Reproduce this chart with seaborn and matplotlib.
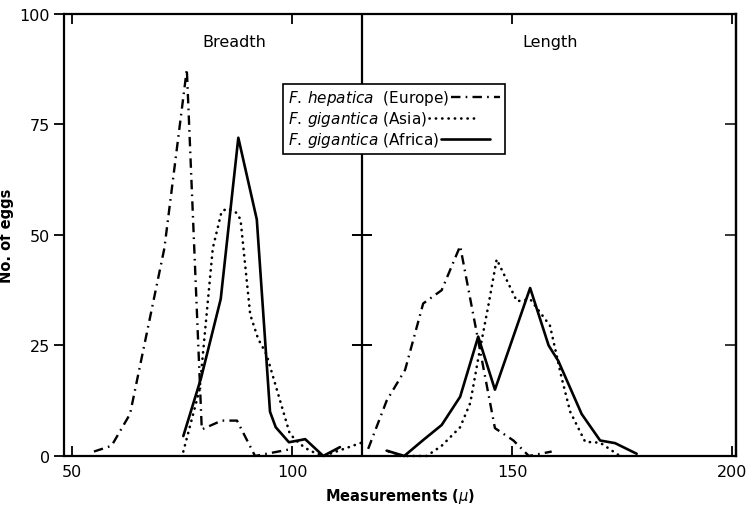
import matplotlib
matplotlib.use("Agg")
import matplotlib.pyplot as plt
import seaborn as sns
import numpy as np

# ---------------- data ----------------
# Breadth panel
europe_breadth_x = [55, 59, 63.2, 71, 76.1, 79.5, 84, 87.5, 91.6, 99.5]
europe_breadth_y = [1.0, 2.3, 9.5, 47, 87.5, 6.0, 8.0, 8.0, 0.0, 1.5]

asia_breadth_x = [75.3, 79, 82, 84, 85.3, 87.4, 88.3, 90.5, 92.3, 94.2, 99.5, 101.8, 104, 107.2, 115.8]
asia_breadth_y = [1.0, 15, 47, 55.3, 56, 55, 53.5, 32, 26.5, 23, 5.0, 2.7, 1.2, 0.0, 3.0]

africa_breadth_x = [75.3, 79.3, 83.8, 87.8, 92.0, 95.0, 96.3, 99.3, 103, 107.1, 110.9]
africa_breadth_y = [4.5, 17.5, 35.5, 72, 53.5, 10, 6.5, 3.1, 3.8, 0.0, 2.0]

# Length panel
europe_length_x = [117.3, 121.5, 125.7, 129.8, 134, 138.2, 146.1, 150.3, 153.8, 159]
europe_length_y = [1.6, 12.5, 19.5, 34.5, 37.5, 47.5, 6.3, 3.5, 0.0, 1.0]

asia_length_x = [122, 125.4, 130.6, 134, 138.2, 140.5, 142.3, 144.6, 146.5, 151.1, 154.1, 158.6, 161.3, 163.2, 166.6, 170, 174.5]
asia_length_y = [1.0, 0.0, 0.0, 2.3, 6.5, 12, 22, 34, 44.5, 35, 35.5, 29.5, 17.5, 10, 3.2, 3.0, 0.0]

africa_length_x = [121.5, 125.5, 129.8, 134, 138.2, 142.3, 146.1, 154.1, 158.3, 160.5, 165.8, 170, 173.4, 178.3]
africa_length_y = [1.2, 0.0, 3.6, 7.0, 13.4, 27, 15, 38, 25, 21.5, 9.5, 3.5, 2.9, 0.5]

series_labels = [r"$\mathit{F.\,hepatica}$  (Europe)",
                 r"$\mathit{F.\,gigantica}$ (Asia)",
                 r"$\mathit{F.\,gigantica}$ (Africa)"]
panel_titles = ["Breadth", "Length"]
x_ticks = [50, 100, 150, 200]
y_ticks = [0, 25, 50, 75, 100]
divider_x = 116

# ---------------- style ----------------
sns.set_style("ticks")
plt.rcParams["font.family"] = ["DejaVu Sans"]
plt.rcParams["mathtext.fontset"] = "dejavusans"
plt.rcParams["text.color"] = "black"
plt.rcParams["axes.labelcolor"] = "black"

fig = plt.figure(figsize=(7.55, 5.1), dpi=100)
ax = fig.add_axes([0.0848, 0.104, 0.8902, 0.8666])

dashdot = (0, (4.0, 2.2, 0.7, 2.2))
dotted = (0, (0.1, 2.3))
styles = [dict(ls=dashdot, lw=1.7, dash_capstyle="butt"),
          dict(ls=dotted, lw=1.9, dash_capstyle="round"),
          dict(ls="-", lw=1.9)]

breadth = [(europe_breadth_x, europe_breadth_y),
           (asia_breadth_x, asia_breadth_y),
           (africa_breadth_x, africa_breadth_y)]
length = [(europe_length_x, europe_length_y),
          (asia_length_x, asia_length_y),
          (africa_length_x, africa_length_y)]

handles = []
for i, ((bx, by), (lx, ly)) in enumerate(zip(breadth, length)):
    st = styles[i]
    sns.lineplot(x=bx, y=by, ax=ax, color="black", sort=False, estimator=None,
                 linestyle=st["ls"], linewidth=st["lw"], label=series_labels[i],
                 clip_on=False)
    line = ax.get_lines()[-1]
    if "dash_capstyle" in st:
        line.set_dash_capstyle(st["dash_capstyle"])
    handles.append(line)
    sns.lineplot(x=lx, y=ly, ax=ax, color="black", sort=False, estimator=None,
                 linestyle=st["ls"], linewidth=st["lw"], clip_on=False)
    line2 = ax.get_lines()[-1]
    if "dash_capstyle" in st:
        line2.set_dash_capstyle(st["dash_capstyle"])

# divider between panels
ax.axvline(divider_x, color="black", lw=1.6)
ax.plot([divider_x] * 3, y_ticks[1:4], ls="none", marker="_", ms=14,
        mew=1.4, color="black")

ax.set_xlim(48.2, 200.9)
ax.set_ylim(0, 100)
ax.set_xticks(x_ticks)
ax.set_yticks(y_ticks)
ax.tick_params(axis="x", direction="in", top=True, length=7, width=1.3,
               labelsize=11.5, pad=6, colors="black")
ax.tick_params(axis="y", direction="out", length=7, width=1.3,
               labelsize=11.5, pad=3, colors="black")
sec = ax.secondary_yaxis("right")
sec.set_yticks(y_ticks)
sec.tick_params(direction="in", length=8, width=1.3, labelright=False)
for s in sec.spines.values():
    s.set_linewidth(1.6)
for s in ax.spines.values():
    s.set_linewidth(1.6)
    s.set_color("black")

ax.set_xlabel(r"Measurements ($\mu$)", fontsize=10.5, fontweight="bold",
              labelpad=5, color="black")
ax.set_ylabel("No. of eggs", fontsize=10.5, fontweight="bold", labelpad=4,
              color="black")

ax.text(87, 93.7, panel_titles[0], ha="center", va="center", fontsize=11.5,
        color="black")
ax.text(158.6, 93.7, panel_titles[1], ha="center", va="center", fontsize=11.5,
        color="black")

leg = ax.legend(handles=handles, labels=series_labels, loc="upper left",
                bbox_to_anchor=(0.326, 0.842), markerfirst=False,
                frameon=True, fancybox=False, edgecolor="black", framealpha=1,
                fontsize=11, handlelength=3.2, handletextpad=0.15,
                labelspacing=0.12, borderpad=0.3, borderaxespad=0)
leg.get_frame().set_linewidth(1.2)
for t in leg.get_texts():
    t.set_color("black")
# left-align the legend entries (text first, line sample after)
for col in leg._legend_handle_box.get_children():
    col.align = "left"

fig.savefig("out.png", dpi=100)
